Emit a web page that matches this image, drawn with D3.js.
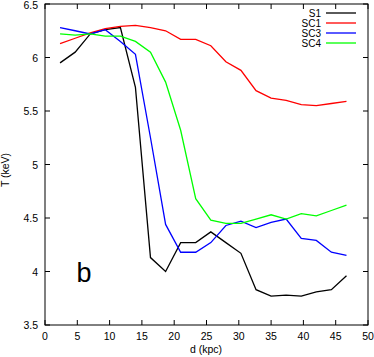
<!DOCTYPE html>
<html><head><meta charset="utf-8">
<script src="https://cdn.jsdelivr.net/npm/d3@7/dist/d3.min.js"></script>
<style>body{margin:0;background:#fff}svg{display:block;font-family:"Liberation Sans",Arial,sans-serif}</style>
</head><body><svg id="c" width="374" height="357"></svg>
<script>
const distances = [2.33,4.67,7.0,9.33,11.67,14.0,16.33,18.67,21.0,23.33,25.67,28.0,30.33,32.67,35.0,37.33,39.67,42.0,44.33,46.67];
const S1  = [5.95,6.05,6.22,6.26,6.28,5.72,4.13,4.00,4.27,4.27,4.37,4.27,4.17,3.83,3.77,3.78,3.77,3.81,3.83,3.96];
const SC1 = [6.13,6.18,6.23,6.27,6.29,6.30,6.28,6.25,6.17,6.17,6.11,5.96,5.88,5.69,5.62,5.60,5.56,5.55,5.57,5.59];
const SC3 = [6.28,6.25,6.22,6.26,6.15,6.03,5.25,4.44,4.18,4.18,4.27,4.43,4.47,4.41,4.46,4.49,4.31,4.29,4.18,4.15];
const SC4 = [6.22,6.21,6.22,6.20,6.20,6.15,6.05,5.77,5.32,4.68,4.48,4.45,4.45,4.49,4.53,4.49,4.54,4.52,4.57,4.62];
const seriesNames = ["S1","SC1","SC3","SC4"];
const seriesColors = ["#000000","#ff0000","#0000ff","#00ff00"];
const xTicks = [0,5,10,15,20,25,30,35,40,45,50];
const yTicks = [3.5,4,4.5,5,5.5,6,6.5];

const svg = d3.select("#c");
const L=45,R=368,T=4,B=325;
const x = d3.scaleLinear().domain([0,50]).range([L,R]);
const y = d3.scaleLinear().domain([3.5,6.5]).range([B,T]);
const tl = 5;

const g = svg.append("g");
g.append("rect").attr("x",L).attr("y",T).attr("width",R-L).attr("height",B-T)
 .attr("fill","none").attr("stroke","#000").attr("stroke-width",1);

xTicks.forEach(v=>{
  g.append("line").attr("x1",x(v)).attr("x2",x(v)).attr("y1",B).attr("y2",B-tl).attr("stroke","#000");
  g.append("line").attr("x1",x(v)).attr("x2",x(v)).attr("y1",T).attr("y2",T+tl).attr("stroke","#000");
  g.append("text").attr("x",x(v)).attr("y",B+15).attr("text-anchor","middle")
   .attr("font-size",10.5).attr("fill","#000").text(d3.format("d")(v));
});
yTicks.forEach(v=>{
  g.append("line").attr("x1",L).attr("x2",L+tl).attr("y1",y(v)).attr("y2",y(v)).attr("stroke","#000");
  g.append("line").attr("x1",R).attr("x2",R-tl).attr("y1",y(v)).attr("y2",y(v)).attr("stroke","#000");
  g.append("text").attr("x",L-7).attr("y",Math.max(y(v)+4,9)).attr("text-anchor","end")
   .attr("font-size",10.5).attr("fill","#000").text(String(v));
});

g.append("text").attr("x",206).attr("y",353).attr("text-anchor","middle").attr("font-size",10.5).text("d (kpc)");
g.append("text").attr("transform","translate(9,170) rotate(-90)").attr("text-anchor","middle").attr("font-size",10.5).text("T (keV)");

const line = d3.line().x((d,i)=>x(distances[i])).y(d=>y(d));
[S1,SC1,SC3,SC4].forEach((s,k)=>{
  g.append("path").datum(s).attr("d",line).attr("fill","none")
   .attr("stroke",seriesColors[k]).attr("stroke-width",1.3).attr("stroke-linejoin","miter");
});

seriesNames.forEach((n,k)=>{
  const yy = 13 + k*10;
  g.append("text").attr("x",321).attr("y",yy+3.5).attr("text-anchor","end").attr("font-size",10).text(n);
  g.append("line").attr("x1",326).attr("x2",356).attr("y1",yy).attr("y2",yy)
   .attr("stroke",seriesColors[k]).attr("stroke-width",1.3);
});

g.append("text").attr("x",84).attr("y",282).attr("text-anchor","middle").attr("font-size",27).text("b");
</script></body></html>
